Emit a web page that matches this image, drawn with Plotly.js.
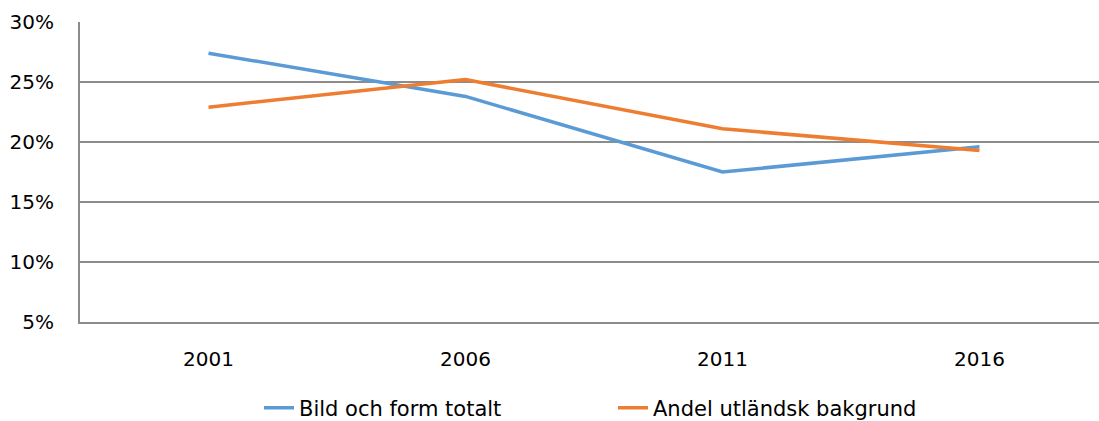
<!DOCTYPE html>
<html>
<head>
<meta charset="utf-8">
<script src="https://cdn.plot.ly/plotly-3.0.1.min.js"></script>
<style>html,body{margin:0;padding:0;background:#fff;}#chart{width:1099px;height:421px;}</style>
</head>
<body>
<div id="chart"></div>
<script>
const years = ['2001', '2006', '2011', '2016'];
const bildOchForm = [27.4, 23.8, 17.5, 19.6];
const andelUtlandsk = [22.9, 25.2, 21.1, 19.3];
const seriesNames = ['Bild och form totalt', 'Andel utländsk bakgrund'];
const yTicks = [5, 10, 15, 20, 25, 30];

const font = '"DejaVu Sans", sans-serif';

const traces = [
  {x: years, y: bildOchForm, name: seriesNames[0], type: 'scatter', mode: 'lines',
   line: {color: '#5B9BD5', width: 3.5}},
  {x: years, y: andelUtlandsk, name: seriesNames[1], type: 'scatter', mode: 'lines',
   line: {color: '#ED7D31', width: 3.5}}
];

const layout = {
  width: 1099, height: 421,
  margin: {l: 80, r: 0, t: 22, b: 99, autoexpand: false},
  paper_bgcolor: '#fff', plot_bgcolor: '#fff',
  font: {family: font, size: 20, color: '#000'},
  showlegend: true,
  legend: {orientation: 'h', xref: 'container', yref: 'container',
           x: 259 / 1099, xanchor: 'left', y: 13 / 421, yanchor: 'middle',
           entrywidth: 309, entrywidthmode: 'pixels',
           font: {family: font, size: 21, color: '#000'}, traceorder: 'normal'},
  xaxis: {type: 'category', range: [-0.5, 3.465], showgrid: false, zeroline: false,
          showline: true, linecolor: '#8c8c8c', linewidth: 2, ticks: '',
          ticklabelstandoff: 18, tickfont: {size: 20}, fixedrange: true},
  yaxis: {range: [5, 30], tickvals: yTicks, ticktext: yTicks.map(v => v + '%'),
          showgrid: true, gridcolor: '#8c8c8c', gridwidth: 2, zeroline: false,
          showline: true, linecolor: '#8c8c8c', linewidth: 2, ticks: '',
          ticklabelstandoff: 20, tickfont: {size: 20}, fixedrange: true}
};

Plotly.newPlot('chart', traces, layout, {displayModeBar: false, staticPlot: true});
</script>
</body>
</html>
